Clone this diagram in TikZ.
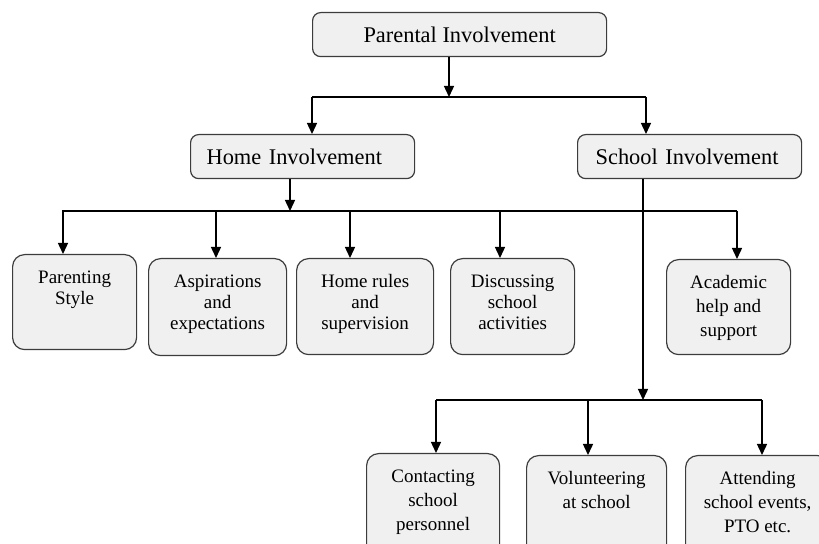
\documentclass[tikz,border=0pt]{standalone}
\usepackage{fontspec}
\setmainfont{Liberation Serif}
\usetikzlibrary{arrows.meta}
\definecolor{boxfill}{HTML}{F0F0F0}
\definecolor{boxline}{HTML}{3C3C3C}
\tikzset{
  headbox/.style={draw=boxline, fill=boxfill, rounded corners=4pt, line width=0.6pt,
    minimum height=22pt, inner ysep=0pt, font=\fontsize{11.2}{13}\selectfont},
  leafbox/.style={draw=boxline, fill=boxfill, rounded corners=6pt, line width=0.6pt,
    inner xsep=7pt, inner ysep=8pt, anchor=north west, font=\fontsize{9.5}{10.5}\selectfont},
  leafloose/.style={leafbox, font=\fontsize{9.5}{12}\selectfont},
  conn/.style={line width=0.7pt},
  arr/.style={conn, -{Triangle[length=5.5pt, width=5pt]}}
}
\newcommand{\leaftext}[3]{\parbox[t][#2][t]{#1}{\centering #3}}
\begin{document}
\begin{tikzpicture}[x=0.5pt, y=-0.5pt]
  \useasboundingbox (0,0) rectangle (819,544);
  \clip (0,0) rectangle (819,544);
  % top level
  \node[headbox, anchor=north west, minimum width=147pt] (par) at (312,12) {Parental Involvement};
  \node[headbox, anchor=north west, inner xsep=8pt, text width=96pt, align=left] (home) at (190,134) {Home Involvement};
  \node[headbox, anchor=north west, inner xsep=9pt, text width=94pt, align=left] (school) at (577,134) {School Involvement};
  \coordinate (j1) at (449,97);
  \coordinate (b1l) at (312,97);
  \coordinate (b1r) at (646,97);
  \draw[arr] (par.south -| j1) -- (j1);
  \draw[conn] (b1l) -- (b1r);
  \draw[arr] (b1l) -- (b1l |- home.north);
  \draw[arr] (b1r) -- (b1r |- school.north);
  % home involvement
  \node[leafbox] (style) at (12,254) {\leaftext{48pt}{31.5pt}{Parenting\\Style}};
  \node[leafbox] (aspir) at (148,258) {\leaftext{55pt}{32.5pt}{Aspirations\\and\\expectations}};
  \node[leafbox] (rules) at (296,258) {\leaftext{54.5pt}{32pt}{Home rules\\and\\supervision}};
  \node[leafbox] (discuss) at (450,258) {\leaftext{48pt}{32pt}{Discussing\\school\\activities}};
  \node[leafloose] (acad) at (666,259) {\leaftext{48pt}{31.5pt}{Academic\\help and\\support}};
  \coordinate (j2) at (290,211);
  \draw[arr] (home.south -| j2) -- (j2);
  \draw[conn] (62,211) coordinate (b2l) -- (737,211) coordinate (b2r);
  \foreach \x/\n in {63/style, 216/aspir, 350/rules, 500/discuss, 737/acad}{
    \path (\x,211) coordinate (t);
    \draw[arr] (t) -- (t |- \n.north);
  }
  % school involvement
  \node[leafloose] (contact) at (366,453) {\leaftext{52.5pt}{38pt}{Contacting\\school\\personnel}};
  \node[leafloose] (volunt) at (526,455) {\leaftext{56pt}{38pt}{Volunteering\\at school}};
  \node[leafloose] (attend) at (685,455) {\leaftext{58pt}{38pt}{Attending\\school events,\\PTO etc.}};
  \coordinate (j3) at (643,400);
  \draw[arr] (school.south -| j3) -- (j3);
  \draw[conn] (436,400) -- (762,400);
  \foreach \x/\n in {436/contact, 588/volunt, 762/attend}{
    \path (\x,400) coordinate (t);
    \draw[arr] (t) -- (t |- \n.north);
  }
\end{tikzpicture}
\end{document}
